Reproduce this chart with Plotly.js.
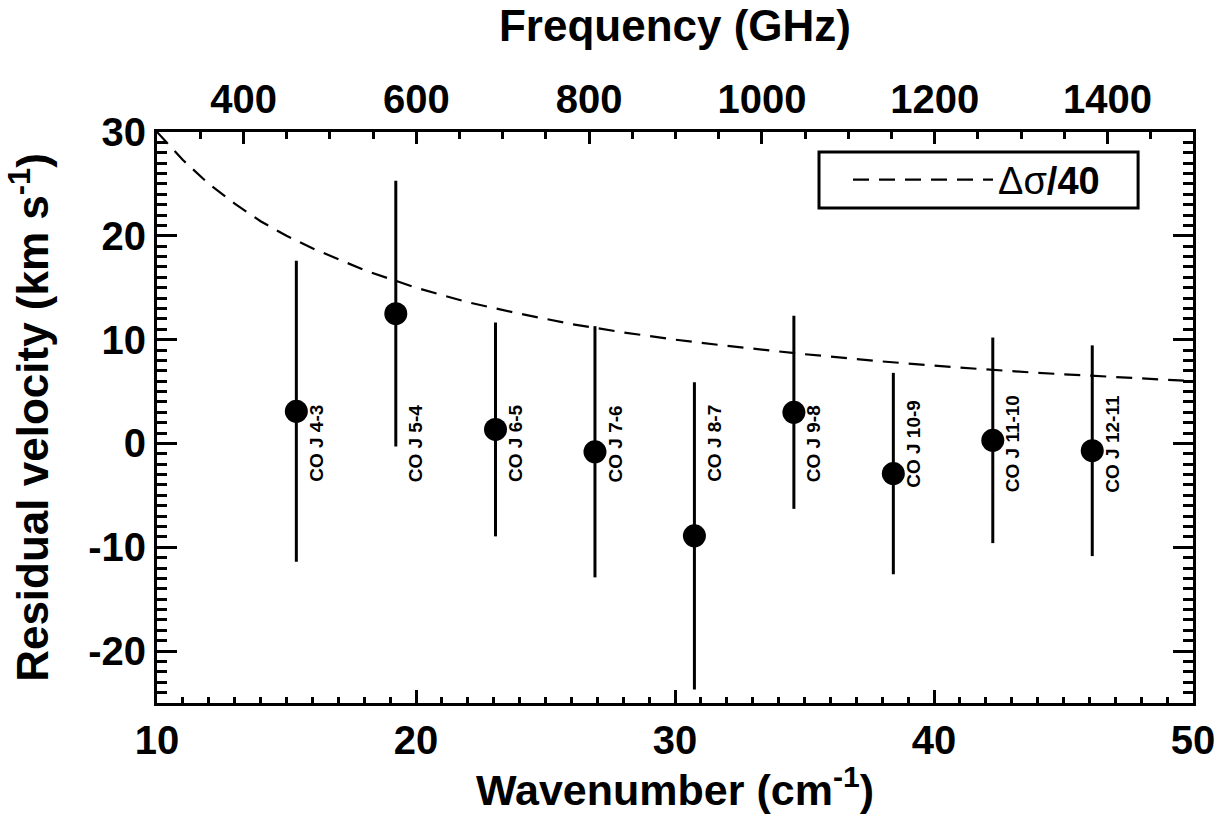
<!DOCTYPE html>
<html>
<head>
<meta charset="utf-8">
<script src="https://cdn.plot.ly/plotly-3.0.1.min.js"></script>
<style>html,body{margin:0;padding:0;background:#fff;}#chart{width:1230px;height:814px;}</style>
</head>
<body>
<div id="chart"></div>
<script>
// CO transitions: wavenumber (cm^-1), residual velocity (km/s), 1-sigma error (km/s)
const lineLabels = ["CO J 4-3","CO J 5-4","CO J 6-5","CO J 7-6","CO J 8-7","CO J 9-8","CO J 10-9","CO J 11-10","CO J 12-11"];
const wavenumber = [15.38, 19.22, 23.07, 26.91, 30.75, 34.59, 38.43, 42.27, 46.11];
const residualVel = [3.1, 12.5, 1.35, -0.8, -8.9, 3.0, -2.9, 0.3, -0.7];
const velError = [14.5, 12.8, 10.3, 12.1, 14.8, 9.3, 9.7, 9.9, 10.15];

// dashed curve  Δσ/40
const curveX = [10, 11, 12, 13, 14, 15, 16, 18, 20, 22, 24, 26, 28, 30, 32, 35, 38, 41, 44, 47, 50];
const curveY = [30, 27.3, 25, 23.1, 21.4, 20, 18.8, 16.7, 15, 13.6, 12.5, 11.5, 10.7, 10, 9.4, 8.6, 7.9, 7.3, 6.8, 6.4, 6.0];

// axes
const wnTicks = [10, 20, 30, 40, 50];
const velTicks = [-20, -10, 0, 10, 20, 30];
const velTickText = ["-20", "-10", "0", "10", "20", "30"];
const freqTicks = [400, 600, 800, 1000, 1200, 1400];
const freqRange = [299.79, 1498.96];
const wnRange = [10, 50];
const velRange = [-25, 30];

const F = 'Liberation Sans, Arial, sans-serif';
const bold = (s) => ({family: F, size: s, color: '#000', weight: 'bold'});

const traces = [
  {
    x: curveX, y: curveY, type: 'scatter', mode: 'lines',
    name: '<span style="font-weight:normal">\u0394\u03c3</span>/40',
    line: {color: '#000', width: 2.2, dash: '16px,10px'},
    hoverinfo: 'skip'
  },
  {
    x: wavenumber, y: residualVel, type: 'scatter', mode: 'markers',
    showlegend: false,
    marker: {color: '#000', size: 23, symbol: 'circle'},
    error_y: {type: 'data', array: velError, visible: true, color: '#000', thickness: 3, width: 0}
  },
  {
    x: freqRange, y: [null, null], xaxis: 'x2', type: 'scatter', mode: 'lines',
    showlegend: false, hoverinfo: 'skip'
  }
];

const annotations = lineLabels.map((t, i) => ({
  x: wavenumber[i], y: 0, xref: 'x', yref: 'y', text: t, showarrow: false,
  textangle: -90, xanchor: 'center', yanchor: 'middle', xshift: 20,
  font: bold(19)
}));

const layout = {
  width: 1230, height: 814,
  margin: {l: 157, r: 37, t: 132, b: 111},
  paper_bgcolor: '#fff', plot_bgcolor: '#fff',
  showlegend: true,
  legend: {
    x: 0.667, y: 0.916, xanchor: 'left', yanchor: 'middle',
    borderwidth: 0, bgcolor: 'rgba(0,0,0,0)',
    font: bold(38), itemwidth: 140
  },
  shapes: [{
    type: 'rect', xref: 'paper', yref: 'paper',
    x0: 0.639, x1: 0.947, y0: 0.867, y1: 0.965,
    line: {color: '#000', width: 3}, fillcolor: '#fff', layer: 'below'
  }],
  xaxis: {
    range: wnRange, tickvals: wnTicks,
    ticks: 'inside', ticklen: 13, tickwidth: 3, tickcolor: '#000',
    minor: {dtick: 1, ticks: 'inside', ticklen: 6, tickwidth: 3, tickcolor: '#000', showgrid: false},
    showline: true, linewidth: 3, linecolor: '#000', mirror: false,
    showgrid: false, zeroline: false,
    tickfont: bold(40),
    title: {text: 'Wavenumber (cm<sup>-1</sup>)', font: bold(43), standoff: 0}
  },
  xaxis2: {
    overlaying: 'x', side: 'top', anchor: 'y',
    range: freqRange, tickvals: freqTicks,
    ticks: 'inside', ticklen: 12, tickwidth: 3, tickcolor: '#000',
    minor: {dtick: 50, tick0: 0, ticks: 'inside', ticklen: 7, tickwidth: 3, tickcolor: '#000', showgrid: false},
    showline: true, linewidth: 3, linecolor: '#000',
    showgrid: false, zeroline: false,
    tickfont: bold(40),
    title: {text: 'Frequency (GHz)', font: bold(44), standoff: 22}
  },
  yaxis: {
    range: velRange, tickvals: velTicks, ticktext: velTickText,
    ticks: 'inside', ticklen: 20, tickwidth: 3, tickcolor: '#000',
    minor: {dtick: 1, ticks: 'inside', ticklen: 10, tickwidth: 3, tickcolor: '#000', showgrid: false},
    showline: true, linewidth: 3, linecolor: '#000', mirror: 'ticks',
    showgrid: false, zeroline: false,
    tickfont: bold(40),
    title: {text: 'Residual velocity (km s<sup>-1</sup>)', font: bold(44), standoff: 26}
  },
  annotations: annotations
};

Plotly.newPlot('chart', traces, layout, {displayModeBar: false, staticPlot: true});
</script>
</body>
</html>
